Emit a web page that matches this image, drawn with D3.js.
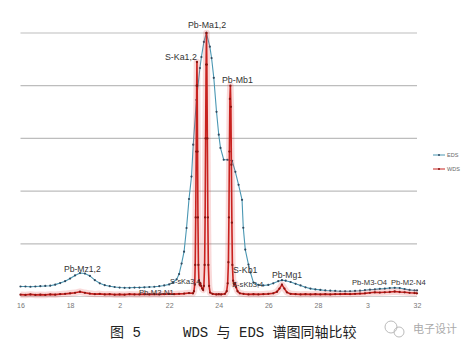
<!DOCTYPE html>
<html><head><meta charset="utf-8">
<script src="https://cdn.jsdelivr.net/npm/d3@7"></script>
<style>body{margin:0;background:#fff}svg{display:block}</style>
</head><body>
<svg id="c" width="468" height="357"></svg>
<script>
// ---- data (energy keV, normalized intensity) ----
const tickValues = [1.6,1.8,2.0,2.2,2.4,2.6,2.8,3.0,3.2];
const tickLabels = ["16","18","2","22","24","26","28","3","32"];
const gridValues = [0.2,0.4,0.6,0.8,1.0];
const seriesNames = ["EDS","WDS"];

const edsE = [1.60,1.62,1.64,1.66,1.68,1.70,1.72,1.74,1.76,1.78,1.80,1.82,1.84,1.86,1.88,1.90,1.92,1.94,1.96,1.98,
  2.00,2.02,2.04,2.06,2.08,2.10,2.12,2.14,2.16,2.18,2.20,2.215,2.23,2.24,2.25,2.26,2.27,2.28,2.29,2.297,2.310,2.324,2.330,2.340,2.350,
  2.364,2.371,2.380,2.391,2.400,2.407,2.420,2.435,2.454,2.467,2.480,2.494,2.499,2.507,2.520,2.528,2.540,
  2.56,2.58,2.60,2.62,2.64,2.655,2.67,2.69,2.71,2.73,2.75,2.77,2.79,2.81,2.83,2.85,2.87,2.89,2.91,2.93,2.95,2.97,2.99,
  3.01,3.03,3.05,3.07,3.09,3.11,3.13,3.15,3.17,3.19,3.20];
const edsV = [.038,.038,.037,.038,.039,.040,.041,.045,.051,.058,.068,.080,.089,.087,.078,.062,.050,.043,.039,.036,
  .034,.033,.033,.034,.034,.035,.036,.037,.039,.042,.046,.053,.065,.085,.125,.170,.260,.370,.455,.576,.746,.867,.909,.966,1.0,
  .948,.905,.830,.701,.614,.564,.519,.519,.515,.473,.424,.367,.261,.178,.121,.091,.053,
  .044,.042,.044,.050,.058,.062,.060,.055,.048,.042,.035,.030,.027,.025,.023,.022,.021,.020,.020,.020,.021,.022,.024,
  .026,.027,.029,.030,.032,.033,.032,.028,.025,.023,.023];

const wdsE = [1.60,1.62,1.64,1.66,1.68,1.70,1.72,1.74,1.76,1.78,1.80,1.82,1.84,1.86,1.88,1.90,1.92,1.94,1.96,1.98,
  2.00,2.02,2.04,2.06,2.08,2.10,2.12,2.14,2.16,2.18,2.20,2.22,2.24,2.26,2.28,
  2.296,2.300,2.303,2.305,2.307,2.309,2.311,2.312,2.313,2.3145,2.316,2.318,2.320,2.323,2.326,2.329,2.333,2.337,
  2.340,2.343,2.345,2.347,2.349,2.3505,2.352,2.354,2.356,2.358,2.361,2.365,2.375,2.39,2.40,2.41,2.425,
  2.432,2.436,2.439,2.441,2.443,2.445,2.447,2.449,2.451,2.453,2.455,2.458,2.462,2.466,2.470,2.476,2.485,
  2.50,2.52,2.54,2.56,2.58,2.60,2.62,2.635,2.645,2.655,2.665,2.675,2.69,2.71,2.73,2.75,2.77,2.79,2.81,2.83,2.85,2.87,2.89,
  2.91,2.93,2.95,2.97,2.99,3.01,3.03,3.05,3.07,3.09,3.11,3.13,3.15,3.17,3.19,3.20];
const wdsV = [.007,.006,.008,.006,.007,.006,.008,.007,.009,.010,.012,.014,.018,.014,.011,.009,.010,.008,.009,.007,
  .008,.007,.009,.008,.008,.009,.008,.009,.008,.009,.010,.009,.010,.011,.013,
  .012,.020,.045,.12,.30,.55,.80,.89,.80,.55,.30,.12,.06,.045,.05,.04,.030,.025,
  .04,.12,.30,.60,.88,1.0,.88,.60,.30,.12,.04,.015,.010,.008,.009,.008,.010,
  .02,.05,.13,.30,.55,.75,.80,.72,.50,.28,.12,.06,.045,.05,.035,.02,.012,
  .010,.008,.009,.008,.009,.010,.012,.018,.030,.045,.030,.016,.010,.009,.008,.009,.008,.009,.008,.009,.008,.009,.009,
  .010,.009,.010,.011,.012,.014,.016,.015,.016,.017,.019,.017,.016,.014,.013,.012];

const peakLabels = [
  {t:"Pb-Ma1,2", x:2.35, v:1.0},
  {t:"S-Ka1,2", x:2.312, v:0.89},
  {t:"Pb-Mb1", x:2.447, v:0.80},
  {t:"Pb-Mz1,2", x:1.845, v:0.09},
  {t:"Pb-M3-N1", x:2.08, v:0.007},
  {t:"S-sKa3,4", x:2.27, v:0.05},
  {t:"S-Kb1", x:2.462, v:0.10},
  {t:"S-sKb3,4", x:2.462, v:0.045},
  {t:"Pb-Mg1", x:2.655, v:0.08},
  {t:"Pb-M3-O4", x:3.02, v:0.05},
  {t:"Pb-M2-N4", x:3.15, v:0.05}
];
// label placement (left x px, baseline px, font size)
const labelPos = [[188,28,8.8],[165,60,8.8],[222,83,8.8],[64,272,8.6],[139,295,7.6],[170,284,7.4],[233,273,8.8],[232,287,7.6],[272,278,8.6],[352,285,7.6],[391,285,7.6]];

// ---- chart ----
const svg = d3.select("#c");
const x = d3.scaleLinear().domain([1.6,3.2]).range([20.5,417]);
const y = d3.scaleLinear().domain([0,1]).range([296.5,33]);

// grid
svg.append("g").selectAll("line").data(gridValues).join("line")
  .attr("x1",x(1.6)).attr("x2",x(3.2)).attr("y1",d=>y(d)).attr("y2",d=>y(d))
  .attr("stroke","#bdbdbd").attr("stroke-width",1.2);
svg.append("line").attr("x1",x(1.6)).attr("x2",x(3.2)).attr("y1",y(0)).attr("y2",y(0))
  .attr("stroke","#cfcfcf").attr("stroke-width",1);

// x axis
const ax = svg.append("g").attr("transform",`translate(0,${y(0)+4})`)
  .call(d3.axisBottom(x).tickValues(tickValues).tickSize(0).tickFormat((d,i)=>tickLabels[i]));
ax.select(".domain").remove();
ax.selectAll("text").attr("font-family","Liberation Sans, Arial, sans-serif").attr("font-size",7).attr("fill","#777");

const eds = edsE.map((e,i)=>[e,edsV[i]]);
const wds = wdsE.map((e,i)=>[e,wdsV[i]]);
const line = d3.line().x(d=>x(d[0])).y(d=>y(d[1]));

// EDS
svg.append("path").attr("d",line(eds)).attr("fill","none").attr("stroke","#4a97b3").attr("stroke-width",1.1);
svg.append("g").selectAll("circle").data(eds).join("circle")
  .attr("cx",d=>x(d[0])).attr("cy",d=>y(d[1])).attr("r",1.1).attr("fill","#2f4a60");

// WDS
svg.append("path").attr("d",line(wds)).attr("fill","none").attr("stroke","rgba(225,70,70,0.2)").attr("stroke-width",6.5).attr("stroke-linejoin","round");
svg.append("path").attr("d",line(wds)).attr("fill","none").attr("stroke","#c8221f").attr("stroke-width",1.6);
svg.append("g").selectAll("circle").data(wds).join("circle")
  .attr("cx",d=>x(d[0])).attr("cy",d=>y(d[1])).attr("r",1.15).attr("fill","#8a1410");

// labels
svg.append("g").selectAll("text").data(peakLabels).join("text")
  .attr("x",(d,i)=>labelPos[i][0]).attr("y",(d,i)=>labelPos[i][1])
  .attr("font-size",(d,i)=>labelPos[i][2])
  .attr("font-family","Liberation Sans, Arial, sans-serif").attr("fill","#333")
  .text(d=>d.t);

// legend
const lg = svg.append("g");
const legColors = ["#4a97b3","#c8221f"];
seriesNames.forEach((n,i)=>{
  const yy = 155 + i*14;
  lg.append("line").attr("x1",433).attr("x2",445).attr("y1",yy).attr("y2",yy).attr("stroke",legColors[i]).attr("stroke-width",1);
  lg.append("circle").attr("cx",439).attr("cy",yy).attr("r",1).attr("fill",i?"#8a1410":"#2f4a60");
  lg.append("text").attr("x",447).attr("y",yy+2).attr("font-size",5.5).attr("fill","#666")
    .attr("font-family","Liberation Sans, Arial, sans-serif").text(n);
});

// caption
svg.append("text").attr("x",110).attr("y",337).attr("font-size",14).attr("fill","#222")
  .attr("font-family","Liberation Mono, 'Noto Sans CJK SC', monospace").style("white-space","pre")
  .text("图 5");
svg.append("text").attr("x",183).attr("y",337).attr("font-size",14).attr("fill","#222")
  .attr("font-family","Liberation Mono, 'Noto Sans CJK SC', monospace").style("white-space","pre")
  .text("WDS 与 EDS 谱图同轴比较");

// watermark
const wm = svg.append("g").attr("stroke","#bbb").attr("fill","none").attr("stroke-width",1);
wm.append("circle").attr("cx",391).attr("cy",327).attr("r",6);
wm.append("circle").attr("cx",399).attr("cy",332).attr("r",5);
svg.append("text").attr("x",413).attr("y",333).attr("font-size",11).attr("fill","#aaa")
  .attr("font-family","'Noto Sans CJK SC', sans-serif").text("电子设计");
</script>
</body></html>
